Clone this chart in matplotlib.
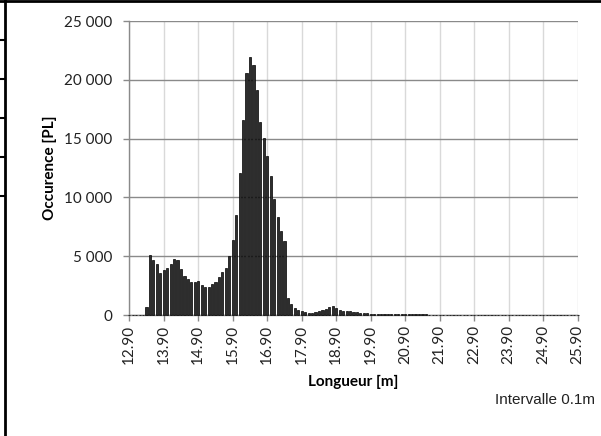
import numpy as np
import matplotlib
matplotlib.use("Agg")
import matplotlib.pyplot as plt
from matplotlib.lines import Line2D

# Occurrences per 0.1 m length bin, starting at 12.90 m
occurrences = [
    20, 0, 0, 0, 0, 650, 5080, 4660, 4380, 3590,          # 12.90 - 13.80
    3810, 4010, 4320, 4770, 4720, 3870, 3330, 3020, 2770, 2770,  # 13.90 - 14.80
    2850, 2540, 2400, 2340, 2600, 2770, 3190, 3620, 4040, 5000,  # 14.90 - 15.80
    6360, 8530, 12090, 16610, 20620, 21950, 21240, 19120, 16440, 15030,  # 15.90 - 16.80
    13560, 11860, 9890, 8330, 7120, 6330, 1470, 930, 620, 425,  # 16.90 - 17.80
    310, 230, 200, 200, 230, 370, 425, 510, 680, 740,     # 17.90 - 18.80
    600, 425, 370, 370, 310, 250, 230, 200, 170, 140,     # 18.90 - 19.80
    110, 100, 90, 85, 80, 75, 70, 70, 65, 60,             # 19.90 - 20.80
    60, 55, 55, 50, 50, 45, 45, 40, 40, 40,               # 20.90 - 21.80
    35, 35, 35, 30, 30, 30, 30, 25, 25, 25,               # 21.90 - 22.80
    25, 25, 20, 20, 20, 20, 20, 15, 15, 0,                # 22.90 - 23.80
    0, 15, 15, 10, 15, 10, 15, 10, 15, 10,                # 23.90 - 24.80
    0, 0, 10, 0, 0, 0, 10, 10, 10, 0,                     # 24.90 - 25.80
    10,                                                   # 25.90
]
bin_start = 12.90
bin_step = 0.10
lengths = np.round(bin_start + bin_step * np.arange(len(occurrences)), 2)

x_tick_values = [12.9, 13.9, 14.9, 15.9, 16.9, 17.9, 18.9, 19.9, 20.9, 21.9, 22.9, 23.9, 24.9, 25.9]
x_tick_labels = ["12.90", "13.90", "14.90", "15.90", "16.90", "17.90", "18.90",
                 "19.90", "20.90", "21.90", "22.90", "23.90", "24.90", "25.90"]
y_tick_values = [0, 5000, 10000, 15000, 20000, 25000]
y_tick_labels = ["0", "5 000", "10 000", "15 000", "20 000", "25 000"]

font = "Lato"

fig = plt.figure(figsize=(6.01, 4.36), dpi=100)
ax = fig.add_axes([0.2151, 0.2775, 0.7461, 0.6743])

bars = ax.bar(lengths, occurrences, width=0.062, color="#2e2e2e", edgecolor="#000000",
              linewidth=0.5, zorder=3)
for b in bars:
    b.set_clip_on(False)

ax.set_xlim(12.9, 25.9)
ax.set_ylim(0, 25000)

ax.set_xticks(x_tick_values)
ax.set_xticklabels(x_tick_labels, rotation=90, fontsize=11, family=font, color="#222222")
ax.set_yticks(y_tick_values)
ax.set_yticklabels(y_tick_labels, fontsize=11, family=font, color="#222222")

ax.grid(axis="x", color="#d9d9d9", linewidth=1.0, zorder=0)
ax.grid(axis="y", color="#8a8a8a", linewidth=1.0, zorder=0)
ax.set_axisbelow(True)

for side in ["top", "right"]:
    ax.spines[side].set_visible(False)
for side in ["left", "bottom"]:
    ax.spines[side].set_color("#8a8a8a")
    ax.spines[side].set_linewidth(1.0)
ax.tick_params(axis="both", direction="out", length=4, color="#8a8a8a", width=1)
ax.tick_params(axis="y", pad=8)
ax.tick_params(axis="x", pad=3)

ax.set_ylabel("Occurence [PL]", fontsize=11, fontweight="bold", family=font, labelpad=5)
ax.set_xlabel("Longueur [m]", fontsize=11, fontweight="bold", family=font, labelpad=8)

fig.text(0.990, 0.082, "Intervalle 0.1m", ha="right", va="center",
         fontsize=11, family="Liberation Sans", color="#222222")

# outer frame lines
fig.add_artist(Line2D([0, 1], [0.998, 0.998], transform=fig.transFigure,
                      color="black", linewidth=2))
fig.add_artist(Line2D([0.0085, 0.0085], [0, 1], transform=fig.transFigure,
                      color="black", linewidth=2))
for yp in [40, 79, 118, 157, 196]:
    yf = 1 - yp / 436
    fig.add_artist(Line2D([0, 0.0085], [yf, yf], transform=fig.transFigure,
                          color="black", linewidth=1.5))

fig.savefig("out.png", dpi=100)
